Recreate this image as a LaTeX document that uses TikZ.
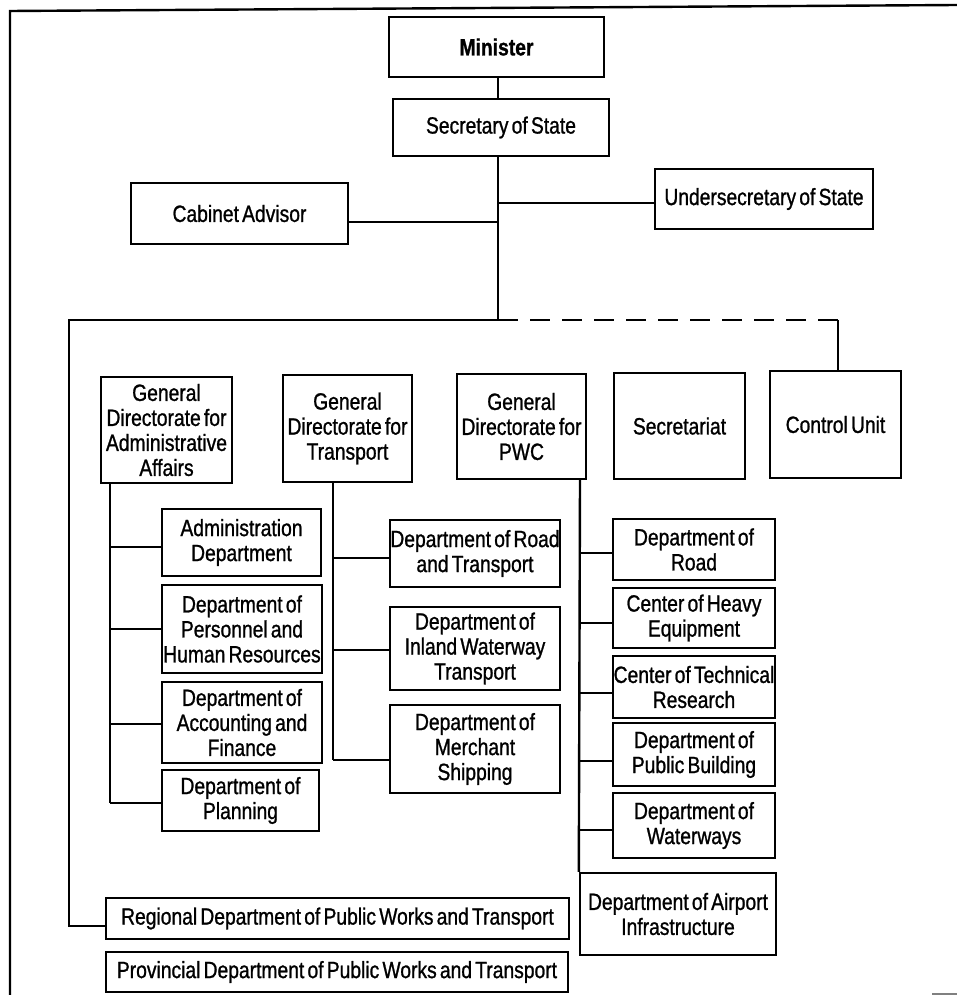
\documentclass[tikz,border=0pt]{standalone}
\usepackage{fontspec}
\setmainfont{Liberation Sans}[FakeStretch=0.82, WordSpace=0.6, FakeBold=1]
\begin{document}
\begin{tikzpicture}[x=1pt,y=-1pt,
  box/.style={draw, line width=2.4pt, rectangle, inner sep=0pt, align=center,
    font=\fontsize{23.5}{25}\selectfont},
  link/.style={line width=2.4pt},
  dlink/.style={line width=2.4pt, dash pattern=on 20pt off 12pt}]
\useasboundingbox (0,0) rectangle (957,995);

% outer frame
\draw[line width=2.4pt] (10,995) -- (10,11) -- (957,5);
\draw[line width=1.2pt, gray] (932,994) -- (957,994);

% top of the hierarchy
\node[box, minimum width=215, minimum height=60] (min) at (496.5,47) {\bfseries Minister};
\node[box, minimum width=216, minimum height=57] (sec) at (501,127.5) {Secretary of State};
\node[box, minimum width=217, minimum height=61] (cab) at (239.5,213.5) {Cabinet Advisor};
\node[box, minimum width=218, minimum height=60] (und) at (764,199) {Undersecretary of State};

% directorates and units
\node[box, minimum width=131, minimum height=106] (gda) at (166.5,430) {General\\Directorate for\\Administrative\\Affairs};
\node[box, minimum width=129, minimum height=107] (gdt) at (347.5,428.5) {General\\Directorate for\\Transport};
\node[box, minimum width=129, minimum height=105] (gdp) at (521.5,426.5) {General\\Directorate for\\PWC};
\node[box, minimum width=131, minimum height=106] (sct) at (679.5,426) {Secretariat};
\node[box, minimum width=131, minimum height=107] (ctl) at (835.5,424.5) {Control Unit};

% administrative affairs departments
\node[box, minimum width=159, minimum height=67] (a1) at (241.5,542.5) {Administration\\Department};
\node[box, minimum width=160, minimum height=88] (a2) at (242,629) {Department of\\Personnel and\\Human Resources};
\node[box, minimum width=160, minimum height=81] (a3) at (242,722.5) {Department of\\Accounting and\\Finance};
\node[box, minimum width=157, minimum height=61] (a4) at (240.5,800.5) {Department of\\Planning};

% transport departments
\node[box, minimum width=170, minimum height=67] (t1) at (475,553.5) {Department of Road\\and Transport};
\node[box, minimum width=170, minimum height=83] (t2) at (475,648.5) {Department of\\Inland Waterway\\Transport};
\node[box, minimum width=170, minimum height=88] (t3) at (475,749) {Department of\\Merchant\\Shipping};

% PWC departments
\node[box, minimum width=162, minimum height=61] (p1) at (694,549.5) {Department of\\Road};
\node[box, minimum width=162, minimum height=60] (p2) at (694,618) {Center of Heavy\\Equipment};
\node[box, minimum width=162, minimum height=62] (p3) at (694,687) {Center of Technical\\Research};
\node[box, minimum width=162, minimum height=63] (p4) at (694,754.5) {Department of\\Public Building};
\node[box, minimum width=162, minimum height=65] (p5) at (694,825.5) {Department of\\Waterways};
\node[box, minimum width=196, minimum height=82] (p6) at (678,914) {Department of Airport\\Infrastructure};

% regional level
\node[box, minimum width=463, minimum height=41] (reg) at (337.5,918.5) {Regional Department of Public Works and Transport};
\node[box, minimum width=462, minimum height=40] (prv) at (337,972) {Provincial Department of Public Works and Transport};

% trunk coordinates
\coordinate (tMin) at (498,77);
\coordinate (tSec) at (498,156);
\coordinate (tCab) at (498,222);
\coordinate (tUnd) at (498,203);
\coordinate (tSplit) at (498,320);
\coordinate (lSplit) at (69,320);
\coordinate (rSplit) at (838,320);
\coordinate (lReg) at (69,926);

% trunk
\draw[link] (tMin) -- (sec.north -| tMin);
\draw[link] (tSec) -- (tSplit);
\draw[link] (cab.east |- tCab) -- (tCab);
\draw[link] (tUnd) -- (und.west |- tUnd);
\draw[link] (tSplit) -- (lSplit) -- (lReg) -- (reg.west |- lReg);
\draw[dlink] (tSplit) -- (rSplit);
\draw[link] (rSplit) -- (ctl.north -| rSplit);

% administrative affairs branch
\coordinate (aTop) at (110,483);
\coordinate (ab1) at (110,547);
\coordinate (ab2) at (110,629);
\coordinate (ab3) at (110,724);
\coordinate (ab4) at (110,803);
\draw[link] (aTop) -- (ab4);
\foreach \i in {1,...,4} \draw[link] (ab\i) -- (a\i.west |- ab\i);

% transport branch
\coordinate (tTop) at (333,482);
\coordinate (tb1) at (333,558);
\coordinate (tb2) at (333,650);
\coordinate (tb3) at (333,760);
\draw[link] (tTop) -- (tb3);
\foreach \i in {1,...,3} \draw[link] (tb\i) -- (t\i.west |- tb\i);

% PWC branch
\coordinate (pTop) at (580,479);
\coordinate (pb1) at (580,553);
\coordinate (pb2) at (580,623);
\coordinate (pb3) at (580,693);
\coordinate (pb4) at (580,761);
\coordinate (pb5) at (580,830);
\draw[link] (pTop) -- (p6.north west);
\foreach \i in {1,...,5} \draw[link] (pb\i) -- (p\i.west |- pb\i);
\end{tikzpicture}
\end{document}
